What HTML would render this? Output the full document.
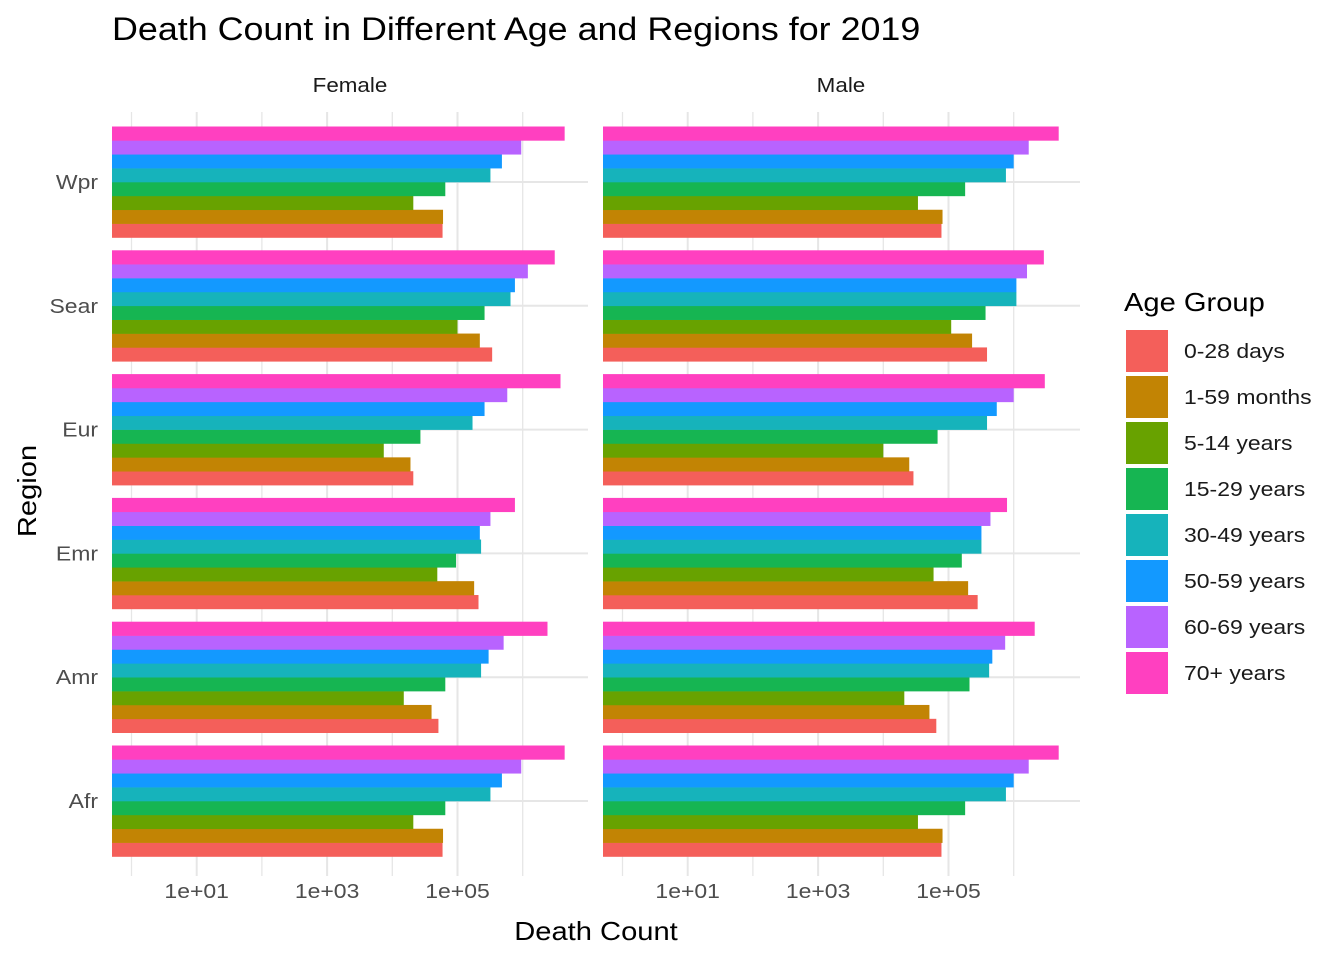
<!DOCTYPE html>
<html><head><meta charset="utf-8">
<style>
body{margin:0;background:#fff;}
svg{display:block;font-family:"Liberation Sans",Arial,sans-serif;}
</style></head>
<body>
<svg id="chart" width="1344" height="960" viewBox="0 0 1344 960" xmlns="http://www.w3.org/2000/svg">
<rect width="1344" height="960" fill="#fff"/>
<text x="112" y="40" font-size="32" fill="#000">Death Count in Different Age and Regions for 2019</text>
<text x="350" y="92" font-size="20" fill="#1a1a1a" text-anchor="middle">Female</text>
<text x="841" y="92" font-size="20" fill="#1a1a1a" text-anchor="middle">Male</text>
<text x="596" y="940" font-size="26" fill="#000" text-anchor="middle">Death Count</text>
<text transform="translate(36,491) rotate(-90)" font-size="26" fill="#000" text-anchor="middle">Region</text>
<g id="panels"></g>
<g id="legend">
<text x="1124" y="311" font-size="26" fill="#000">Age Group</text>
</g>
</svg>
<script>
const regions = ["Afr","Amr","Emr","Eur","Sear","Wpr"];
const ageGroups = ["0-28 days","1-59 months","5-14 years","15-29 years","30-49 years","50-59 years","60-69 years","70+ years"];
const colors = ["#F45F5A","#C28404","#68A200","#16B552","#16B3BB","#1399FF","#B863FF","#FF40C0"];
const tickLabels = ["1e+01","1e+03","1e+05"];
const tickValues = [10,1000,100000];
const gridValues = [1,10,100,1000,10000,100000,1000000];
const femaleAfr = [5.9e4,6.0e4,2.1e4,6.5e4,3.2e5,4.8e5,9.5e5,4.4e6];
const femaleAmr = [5.1e4,4.0e4,1.5e4,6.5e4,2.3e5,3.0e5,5.1e5,2.4e6];
const femaleEmr = [2.1e5,1.8e5,4.9e4,9.5e4,2.3e5,2.2e5,3.2e5,7.6e5];
const femaleEur = [2.1e4,1.9e4,7.4e3,2.7e4,1.7e5,2.6e5,5.8e5,3.8e6];
const femaleSear = [3.4e5,2.2e5,1.0e5,2.6e5,6.5e5,7.6e5,1.2e6,3.1e6];
const femaleWpr = [5.9e4,6.0e4,2.1e4,6.5e4,3.2e5,4.8e5,9.5e5,4.4e6];
const maleAfr = [7.8e4,8.1e4,3.4e4,1.8e5,7.6e5,1.0e6,1.7e6,4.9e6];
const maleAmr = [6.5e4,5.1e4,2.1e4,2.1e5,4.2e5,4.7e5,7.4e5,2.1e6];
const maleEmr = [2.8e5,2.0e5,5.9e4,1.6e5,3.2e5,3.2e5,4.4e5,7.9e5];
const maleEur = [2.9e4,2.5e4,1.0e4,6.8e4,3.9e5,5.5e5,1.0e6,3.0e6];
const maleSear = [3.9e5,2.3e5,1.1e5,3.7e5,1.1e6,1.1e6,1.6e6,2.9e6];
const maleWpr = [7.8e4,8.1e4,3.4e4,1.8e5,7.6e5,1.0e6,1.7e6,4.9e6];

const NS="http://www.w3.org/2000/svg";
function mk(tag,attrs,parent){const e=document.createElementNS(NS,tag);for(const k in attrs)e.setAttribute(k,attrs[k]);parent.appendChild(e);return e;}
const panelsG=document.getElementById('panels');
const panels=[
 {name:"female",left:112,right:588,zero:131.5,data:[femaleAfr,femaleAmr,femaleEmr,femaleEur,femaleSear,femaleWpr]},
 {name:"male",left:603,right:1080,zero:622.5,data:[maleAfr,maleAmr,maleEmr,maleEur,maleSear,maleWpr]}
];
const decade=65.2, panelTop=112, panelBottom=876;
const yCenterAfr=801, yStep=123.8, groupH=111;
function yCenter(i){return yCenterAfr - i*yStep;}
panels.forEach(p=>{
  const g=mk('g',{},panelsG);
  
  
  const x=v=>p.zero+Math.log10(v)*decade;
  gridValues.forEach(v=>{
    const l=mk('line',{x1:x(v),x2:x(v),y1:panelTop,y2:panelBottom,stroke:"#e6e6e6","stroke-width":tickValues.includes(v)?2:1.3},g);
    
    
  });
  regions.forEach((r,i)=>{
    const l=mk('line',{x1:p.left,x2:p.right,y1:yCenter(i),y2:yCenter(i),stroke:"#e6e6e6","stroke-width":2},g);
    
    
  });
  regions.forEach((r,i)=>{
    const vals=p.data[i];
    const bh=groupH/ageGroups.length;
    const gBottom=yCenter(i)+groupH/2;
    vals.forEach((v,j)=>{
      const b=mk('rect',{x:p.left,y:gBottom-(j+1)*bh,width:Math.max(0,x(v)-p.left),height:bh+0.3,fill:colors[j]},g);
      
      
    });
  });
  tickValues.forEach((v,k)=>{
    const t=mk('text',{x:x(v),y:898,"font-size":20.5,fill:"#4d4d4d","text-anchor":"middle"},g);
    t.textContent=tickLabels[k];
    
    
  });
  if(p.name==="female"){
    regions.forEach((r,i)=>{
      const t=mk('text',{x:98,y:yCenter(i)+7,"font-size":20.5,fill:"#4d4d4d","text-anchor":"end"},g);
      t.textContent=r;
      
      
    });
  }
});
const lg=document.getElementById('legend');
ageGroups.forEach((a,j)=>{
  const y=330+j*46;
  const r=mk('rect',{x:1126,y:y,width:42,height:42,fill:colors[j]},lg);
  
  
  const t=mk('text',{x:1184,y:y+28,"font-size":20.5,fill:"#1a1a1a"},lg);
  t.textContent=a;
  
  
});
document.querySelectorAll('text').forEach(t=>{
  const w=t.getComputedTextLength();
  t.setAttribute('textLength', (w*1.12).toFixed(1));
  t.setAttribute('lengthAdjust','spacingAndGlyphs');
});
</script>
</body></html>
